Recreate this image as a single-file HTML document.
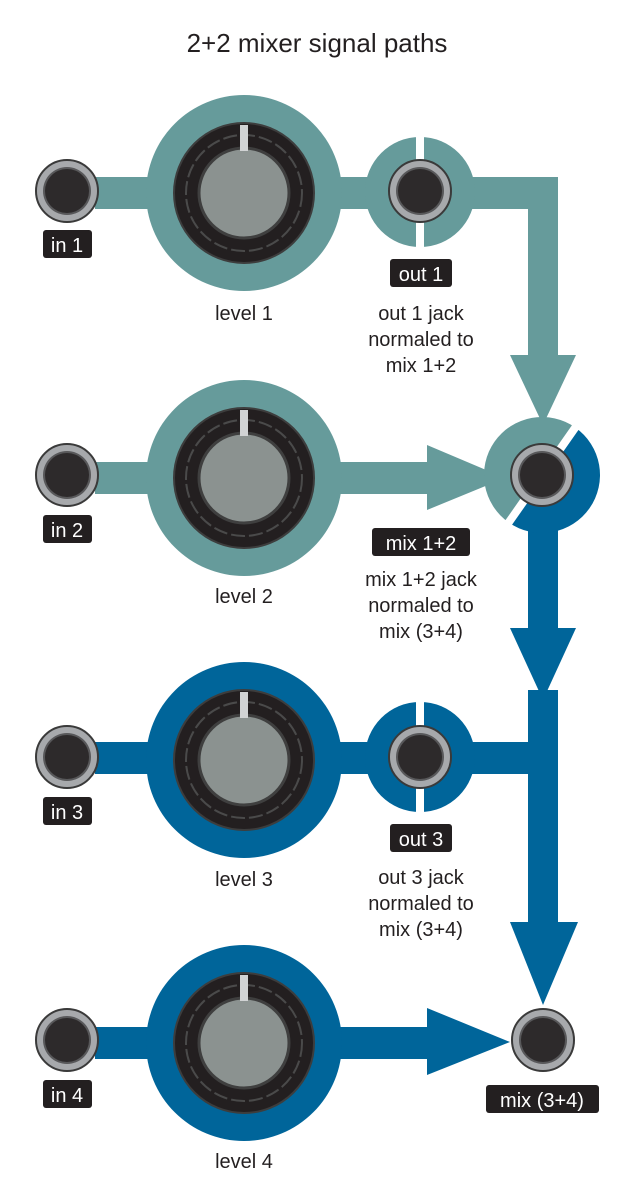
<!DOCTYPE html>
<html><head><meta charset="utf-8"><style>
html,body{margin:0;padding:0;background:#fff;}
svg{display:block;}
text{font-family:"Liberation Sans",sans-serif;}
</style></head><body>
<svg width="635" height="1200" viewBox="0 0 635 1200" xmlns="http://www.w3.org/2000/svg">
<defs>
<g id="jack">
<circle r="31" fill="#a7a9ac" stroke="#3a3a3a" stroke-width="2"/>
<circle r="24" fill="#58585a"/>
<circle r="22" fill="#2d2a2b"/>
</g>
<g id="knob">
<circle r="70" fill="#231f20" stroke="#3d3d3d" stroke-width="2"/>
<circle r="58" fill="none" stroke="#4a4a4a" stroke-width="2" stroke-dasharray="14 4"/>
<circle r="45" fill="#8b9290" stroke="#3f3f3f" stroke-width="3"/>
<rect x="-4" y="-68" width="8" height="26" fill="#d1d3d4"/>
</g>
</defs>
<text x="317" y="52" font-size="26" text-anchor="middle" fill="#231f20">2+2 mixer signal paths</text>

<!-- teal paths -->
<g fill="#669b9b">
<rect x="95" y="177" width="60" height="32"/>
<rect x="335" y="177" width="40" height="32"/>
<rect x="465" y="177" width="93" height="32"/>
<rect x="528" y="177" width="30" height="180"/>
<polygon points="510,355 576,355 543,425"/>
<rect x="95" y="462" width="60" height="32"/>
<rect x="335" y="462" width="100" height="32"/>
<polygon points="427,445 427,510 505,478"/>
<circle cx="244" cy="193" r="98"/>
<circle cx="244" cy="478" r="98"/>
<circle cx="420" cy="192" r="55"/>
</g>
<rect x="416" y="135" width="8" height="115" fill="#fff"/>

<!-- blue paths -->
<g fill="#00659a">
<rect x="528" y="500" width="30" height="140"/>
<polygon points="510,628 576,628 543,700"/>
<rect x="528" y="690" width="30" height="240"/>
<polygon points="510,922 578,922 543,1005"/>
<rect x="95" y="742" width="60" height="32"/>
<rect x="335" y="742" width="40" height="32"/>
<rect x="465" y="742" width="70" height="32"/>
<rect x="95" y="1027" width="60" height="32"/>
<rect x="335" y="1027" width="100" height="32"/>
<polygon points="427,1008 427,1075 510,1042"/>
<circle cx="244" cy="760" r="98"/>
<circle cx="244" cy="1043" r="98"/>
<circle cx="420" cy="757" r="55"/>
</g>
<rect x="416" y="700" width="8" height="115" fill="#fff"/>

<!-- mix 1+2 split ring -->
<g transform="translate(542,475)">
<path d="M-58,0 A58,58 0 0 1 58,0 Z" fill="#669b9b" transform="rotate(-55)"/>
<path d="M-58,0 A58,58 0 0 0 58,0 Z" fill="#00659a" transform="rotate(-55)"/>
<line x1="-70" y1="0" x2="70" y2="0" stroke="#fff" stroke-width="8" transform="rotate(-55)"/>
</g>

<!-- knobs -->
<use href="#knob" x="244" y="193"/>
<use href="#knob" x="244" y="478"/>
<use href="#knob" x="244" y="760"/>
<use href="#knob" x="244" y="1043"/>

<!-- jacks -->
<use href="#jack" x="67" y="191"/>
<use href="#jack" x="67" y="475"/>
<use href="#jack" x="67" y="757"/>
<use href="#jack" x="67" y="1040"/>
<use href="#jack" x="420" y="191"/>
<use href="#jack" x="420" y="757"/>
<use href="#jack" x="542" y="475"/>
<use href="#jack" x="543" y="1040"/>

<!-- label boxes -->
<g fill="#231f20">
<rect x="43" y="230" width="49" height="28" rx="3"/>
<rect x="43" y="515" width="49" height="28" rx="3"/>
<rect x="43" y="797" width="49" height="28" rx="3"/>
<rect x="43" y="1080" width="49" height="28" rx="3"/>
<rect x="390" y="259" width="62" height="28" rx="3"/>
<rect x="390" y="824" width="62" height="28" rx="3"/>
<rect x="372" y="528" width="98" height="28" rx="3"/>
<rect x="486" y="1085" width="113" height="28" rx="3"/>
</g>
<g fill="#fff" font-size="20" text-anchor="middle">
<text x="67" y="252">in 1</text>
<text x="67" y="537">in 2</text>
<text x="67" y="819">in 3</text>
<text x="67" y="1102">in 4</text>
<text x="421" y="281">out 1</text>
<text x="421" y="846">out 3</text>
<text x="421" y="550">mix 1+2</text>
<text x="542" y="1107">mix (3+4)</text>
</g>
<g fill="#231f20" font-size="20" text-anchor="middle">
<text x="244" y="320">level 1</text>
<text x="244" y="603">level 2</text>
<text x="244" y="886">level 3</text>
<text x="244" y="1168">level 4</text>
<text x="421" y="320">out 1 jack</text>
<text x="421" y="346">normaled to</text>
<text x="421" y="372">mix 1+2</text>
<text x="421" y="586">mix 1+2 jack</text>
<text x="421" y="612">normaled to</text>
<text x="421" y="638">mix (3+4)</text>
<text x="421" y="884">out 3 jack</text>
<text x="421" y="910">normaled to</text>
<text x="421" y="936">mix (3+4)</text>
</g>
</svg>
</body></html>
